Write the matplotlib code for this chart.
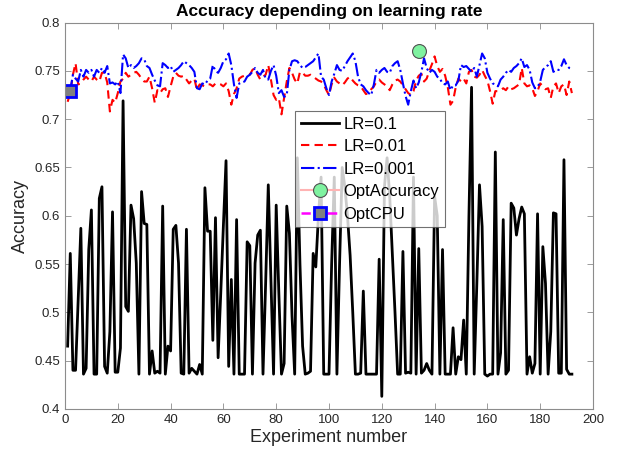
"""Accuracy per experiment for three learning rates, MATLAB-style line chart."""

import matplotlib
matplotlib.use("Agg")
import matplotlib.pyplot as plt
from matplotlib.ticker import FuncFormatter


# accuracy per experiment
acc_lr_0_1 = [
    0.465, 0.561, 0.440, 0.440, 0.515, 0.587, 0.436, 0.442, 0.565, 0.606,
    0.436, 0.436, 0.618, 0.630, 0.444, 0.437, 0.480, 0.604, 0.438, 0.438,
    0.463, 0.719, 0.506, 0.501, 0.611, 0.597, 0.551, 0.436, 0.625, 0.592,
    0.591, 0.436, 0.460, 0.437, 0.439, 0.437, 0.610, 0.436, 0.465, 0.460,
    0.586, 0.590, 0.551, 0.437, 0.436, 0.586, 0.437, 0.442, 0.439, 0.436,
    0.446, 0.436, 0.629, 0.584, 0.584, 0.471, 0.598, 0.453, 0.520, 0.590,
    0.657, 0.444, 0.534, 0.436, 0.596, 0.436, 0.436, 0.436, 0.573, 0.569,
    0.436, 0.551, 0.580, 0.585, 0.436, 0.530, 0.632, 0.534, 0.436, 0.611,
    0.520, 0.436, 0.447, 0.610, 0.582, 0.496, 0.436, 0.660, 0.550, 0.465,
    0.436, 0.437, 0.439, 0.561, 0.547, 0.600, 0.640, 0.436, 0.436, 0.436,
    0.550, 0.640, 0.436, 0.550, 0.650, 0.630, 0.600, 0.559, 0.500, 0.436,
    0.436, 0.437, 0.522, 0.436, 0.436, 0.436, 0.436, 0.436, 0.555, 0.413,
    0.630, 0.660, 0.620, 0.560, 0.500, 0.436, 0.436, 0.563, 0.437, 0.438,
    0.437, 0.640, 0.436, 0.566, 0.437, 0.440, 0.447, 0.440, 0.436, 0.620,
    0.600, 0.436, 0.565, 0.436, 0.436, 0.436, 0.484, 0.436, 0.454, 0.451,
    0.492, 0.436, 0.599, 0.733, 0.436, 0.530, 0.632, 0.589, 0.436, 0.434,
    0.436, 0.436, 0.666, 0.436, 0.458, 0.596, 0.436, 0.440, 0.613, 0.608,
    0.580, 0.597, 0.609, 0.602, 0.436, 0.454, 0.437, 0.447, 0.602, 0.436,
    0.568, 0.530, 0.436, 0.480, 0.603, 0.602, 0.437, 0.437, 0.658, 0.441,
    0.436, 0.436,
]

acc_lr_0_01 = [
    0.718, 0.727, 0.746, 0.758, 0.736, 0.737, 0.741, 0.744, 0.741, 0.739,
    0.744, 0.741, 0.739, 0.748, 0.748, 0.738, 0.708, 0.720, 0.717, 0.727,
    0.739, 0.742, 0.748, 0.744, 0.746, 0.748, 0.749, 0.746, 0.742, 0.739,
    0.739, 0.744, 0.732, 0.717, 0.730, 0.727, 0.731, 0.732, 0.723, 0.734,
    0.744, 0.748, 0.745, 0.744, 0.745, 0.741, 0.737, 0.740, 0.742, 0.730,
    0.736, 0.735, 0.734, 0.736, 0.736, 0.734, 0.737, 0.737, 0.736, 0.734,
    0.737, 0.729, 0.715, 0.726, 0.732, 0.742, 0.744, 0.745, 0.746, 0.746,
    0.751, 0.753, 0.746, 0.741, 0.744, 0.746, 0.756, 0.741, 0.725, 0.720,
    0.722, 0.705, 0.722, 0.739, 0.753, 0.748, 0.741, 0.737, 0.749, 0.748,
    0.745, 0.745, 0.746, 0.744, 0.742, 0.740, 0.739, 0.736, 0.730, 0.725,
    0.736, 0.743, 0.739, 0.737, 0.735, 0.738, 0.742, 0.744, 0.740, 0.737,
    0.735, 0.734, 0.730, 0.726, 0.727, 0.731, 0.734, 0.739, 0.741, 0.738,
    0.736, 0.734, 0.730, 0.736, 0.740, 0.741, 0.739, 0.735, 0.731, 0.727,
    0.725, 0.729, 0.740, 0.745, 0.747, 0.739, 0.742, 0.750, 0.757, 0.765,
    0.755, 0.749, 0.752, 0.745, 0.733, 0.715, 0.719, 0.733, 0.742, 0.739,
    0.742, 0.737, 0.749, 0.751, 0.744, 0.743, 0.746, 0.751, 0.745, 0.740,
    0.729, 0.716, 0.729, 0.729, 0.730, 0.732, 0.730, 0.734, 0.731, 0.732,
    0.734, 0.736, 0.753, 0.737, 0.734, 0.735, 0.732, 0.724, 0.729, 0.737,
    0.734, 0.731, 0.732, 0.722, 0.734, 0.737, 0.727, 0.734, 0.736, 0.725,
    0.739, 0.727,
]

acc_lr_0_001 = [
    0.729, 0.730, 0.746, 0.742, 0.739, 0.751, 0.744, 0.751, 0.748, 0.751,
    0.744, 0.751, 0.748, 0.753, 0.748, 0.755, 0.737, 0.738, 0.736, 0.739,
    0.727, 0.767, 0.763, 0.753, 0.756, 0.753, 0.755, 0.758, 0.763, 0.762,
    0.755, 0.753, 0.746, 0.740, 0.735, 0.734, 0.758, 0.756, 0.753, 0.755,
    0.749, 0.751, 0.753, 0.756, 0.760, 0.758, 0.756, 0.753, 0.749, 0.732,
    0.731, 0.737, 0.736, 0.740, 0.742, 0.756, 0.750, 0.748, 0.753, 0.760,
    0.762, 0.768, 0.756, 0.736, 0.722, 0.737, 0.738, 0.739, 0.744, 0.746,
    0.749, 0.753, 0.748, 0.746, 0.751, 0.742, 0.741, 0.750, 0.756, 0.745,
    0.727, 0.730, 0.723, 0.725, 0.751, 0.760, 0.761, 0.760, 0.756, 0.753,
    0.754, 0.756, 0.758, 0.760, 0.764, 0.768, 0.744, 0.741, 0.732, 0.725,
    0.739, 0.747, 0.756, 0.751, 0.750, 0.755, 0.760, 0.764, 0.768, 0.760,
    0.744, 0.736, 0.734, 0.730, 0.727, 0.725, 0.736, 0.751, 0.748, 0.751,
    0.753, 0.749, 0.748, 0.755, 0.758, 0.760, 0.751, 0.737, 0.724, 0.715,
    0.729, 0.740, 0.732, 0.738, 0.749, 0.763, 0.753, 0.748, 0.751, 0.749,
    0.744, 0.742, 0.737, 0.736, 0.739, 0.730, 0.735, 0.735, 0.740, 0.756,
    0.754, 0.755, 0.752, 0.749, 0.753, 0.744, 0.756, 0.768, 0.763, 0.748,
    0.742, 0.737, 0.736, 0.734, 0.741, 0.744, 0.748, 0.751, 0.749, 0.753,
    0.755, 0.758, 0.763, 0.754, 0.756, 0.751, 0.738, 0.732, 0.733, 0.739,
    0.751, 0.754, 0.756, 0.760, 0.749, 0.751, 0.751, 0.755, 0.762, 0.756,
    0.753, 0.752,
]

experiments = list(range(1, len(acc_lr_0_1) + 1))

opt_accuracy_x = [134]
opt_accuracy_y = [0.771]
opt_cpu_x = [2]
opt_cpu_y = [0.729]

x_ticks = list(range(0, 201, 20))
y_ticks = [0.4, 0.45, 0.5, 0.55, 0.6, 0.65, 0.7, 0.75, 0.8]

plt.rcParams["font.family"] = ["Liberation Sans", "DejaVu Sans"]

fig = plt.figure(figsize=(6.19, 4.61), dpi=100)
ax = fig.add_axes([0.105, 0.113, 0.853, 0.838])

ax.plot(experiments, acc_lr_0_1, "-", color="black", lw=2, label="LR=0.1")
ax.plot(experiments, acc_lr_0_01, "--", color="red", lw=1.5,
        dashes=(4, 2.5), label="LR=0.01")
ax.plot(experiments, acc_lr_0_001, "-.", color="blue", lw=1.5, label="LR=0.001")
ax.plot(opt_accuracy_x, opt_accuracy_y, "-o", color="#ffb3b3", lw=1.5,
        markersize=10, markerfacecolor="#7ff2a0", markeredgecolor="#505050",
        markeredgewidth=0.8, label="OptAccuracy")
ax.plot(opt_cpu_x, opt_cpu_y, "--s", color="magenta", lw=1.8,
        markersize=8.5, markerfacecolor="#808080", markeredgecolor="blue",
        markeredgewidth=2, label="OptCPU")

ax.set_xlim(0, 200)
ax.set_ylim(0.4, 0.8)
ax.set_xticks(x_ticks)
ax.set_yticks(y_ticks)
ax.yaxis.set_major_formatter(FuncFormatter(lambda v, _: f"{v:g}"))
ax.tick_params(direction="in", length=4, width=0.6, top=True, right=True,
               labelsize=9.5, colors="0.55", labelcolor="0.15")
for spine in ax.spines.values():
    spine.set_color("0.55")
    spine.set_linewidth(0.8)

ax.set_title("Accuracy depending on learning rate", fontsize=12.5,
             fontweight="bold", pad=5)
ax.set_xlabel("Experiment number", fontsize=13, color="0.15", labelpad=2)
ax.set_ylabel("Accuracy", fontsize=13, color="0.15", labelpad=4)

leg = ax.legend(loc="upper left", bbox_to_anchor=(0.436, 0.772), fontsize=12,
                frameon=True, fancybox=False, edgecolor="0.3",
                handlelength=2.3, handletextpad=0.25, labelspacing=0.45,
                borderpad=0.35, borderaxespad=0)
leg.get_frame().set_linewidth(0.8)

fig.savefig("out.png", dpi=100)
